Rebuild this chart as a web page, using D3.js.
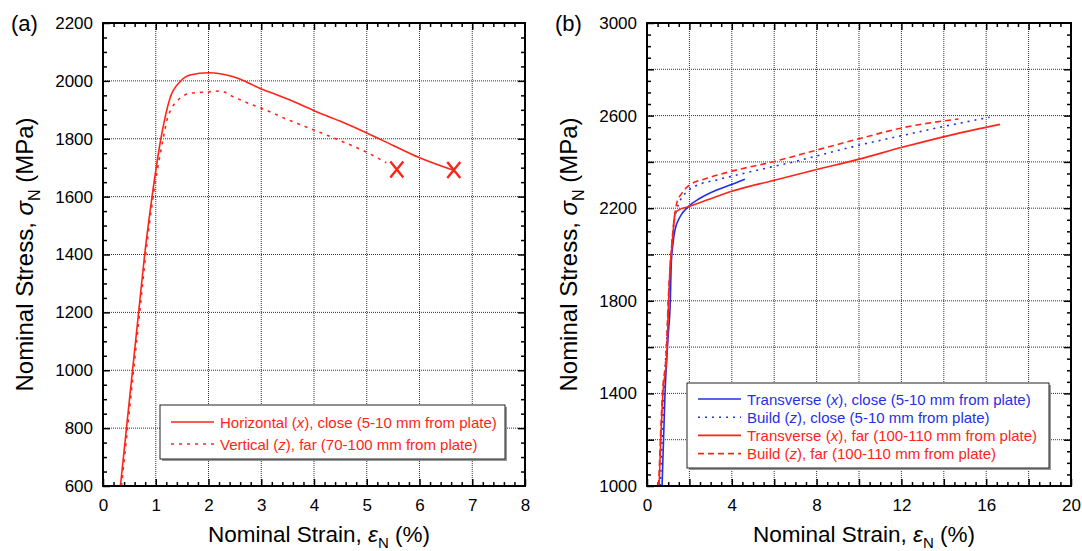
<!DOCTYPE html>
<html>
<head>
<meta charset="utf-8">
<script src="https://cdn.jsdelivr.net/npm/d3@7"></script>
<style>
  body { margin: 0; background: #fff; }
  svg { font-family: "Liberation Sans", Arial, Helvetica, sans-serif; }
</style>
</head>
<body>
<svg id="chart" width="1082" height="551"></svg>
<script>
// Panel (a): [strain %, stress MPa]
const horizClose = [[0.33,600],[0.445,800],[0.56,1000],[0.675,1200],[0.79,1400],[0.93,1600],[1.11,1813],
  [1.27,1940],[1.46,1997],[1.65,2020],[2.0,2028],[2.47,2014],[2.98,1974],[3.5,1937],[3.99,1898],
  [4.49,1861],[4.99,1821],[5.5,1777],[5.98,1736],[6.63,1692]];
const vertFar = [[0.35,600],[0.465,800],[0.58,1000],[0.695,1200],[0.81,1400],[0.95,1600],[1.14,1800],
  [1.22,1870],[1.3,1905],[1.46,1940],[1.65,1957],[2.0,1962],[2.22,1965],[2.47,1945],[2.79,1920],
  [3.01,1905],[3.45,1870],[3.99,1831],[4.49,1794],[4.99,1754],[5.37,1717]];
const failPointsA = [[5.57,1694],[6.65,1692]];

// Panel (b)
const transClose = [[0.71,1000],[0.85,1400],[1.0,1650],[1.1,1800],[1.14,1950],[1.21,2034],[1.32,2106],
  [1.56,2163],[1.95,2207],[2.5,2243],[3.29,2279],[3.92,2300],[4.62,2325]];
const buildClose = [[0.63,1000],[0.8,1400],[0.97,1700],[1.1,1950],[1.25,2120],[1.4,2192],[1.56,2232],
  [1.87,2270],[2.34,2298],[3.29,2322],[4.54,2350],[5.96,2380],[7.0,2402],[8.48,2437],[10,2472],
  [12,2513],[14,2553],[16.16,2593]];
const transFar = [[0.57,1000],[0.75,1400],[0.93,1560],[0.97,1650],[1.02,1800],[1.08,1933],[1.16,2019],
  [1.24,2106],[1.32,2178],[1.48,2192],[1.87,2204],[2.82,2235],[3.92,2271],[5.96,2320],[8.0,2367],
  [10,2412],[12.08,2464],[14.53,2520],[16.65,2562]];
const buildFar = [[0.55,1000],[0.73,1400],[0.92,1600],[1.0,1800],[1.1,1950],[1.2,2080],[1.3,2165],
  [1.4,2221],[1.64,2264],[1.95,2296],[2.82,2329],[3.92,2358],[5.96,2401],[8.0,2451],[10,2500],
  [12.08,2548],[14.0,2577],[14.69,2585]];

const RED = '#ff2418';
const BLUE = '#1f30e8';

const svg = d3.select('#chart');

function drawPanel(p) {
  const g = svg.append('g');
  const x = d3.scaleLinear().domain(p.xDomain).range([p.left, p.right]);
  const y = d3.scaleLinear().domain(p.yDomain).range([p.bottom, p.top]);
  const w = p.right - p.left, h = p.bottom - p.top;

  // dotted grid
  const grid = g.append('g').attr('stroke', '#333').attr('stroke-width', 1).attr('stroke-dasharray', '1,1');
  grid.selectAll('.gx').data(p.xGrid).join('line')
    .attr('x1', d => x(d)).attr('x2', d => x(d)).attr('y1', p.top).attr('y2', p.bottom);
  grid.selectAll('.gy').data(p.yGrid).join('line')
    .attr('y1', d => y(d)).attr('y2', d => y(d)).attr('x1', p.left).attr('x2', p.right);

  // ticks, inward on all four sides
  function addAxis(axis, tx, ty) {
    const a = g.append('g').attr('transform', `translate(${tx},${ty})`).call(axis);
    a.select('.domain').remove();
    a.selectAll('line').attr('stroke', '#000').attr('stroke-width', 1.5);
    a.selectAll('text').attr('font-size', 17).attr('fill', '#000')
      .attr('font-family', '"Liberation Sans", Arial, sans-serif');
    return a;
  }
  const fx = d => p.xLabels.includes(d) ? d : '';
  const fy = d => p.yLabels.includes(d) ? d : '';
  addAxis(d3.axisBottom(x).tickValues(p.xGrid.concat(p.xDomain)).tickSize(-7).tickPadding(13).tickFormat(fx), 0, p.bottom);
  addAxis(d3.axisBottom(x).tickValues(p.xMinor).tickSize(-4).tickFormat(''), 0, p.bottom);
  addAxis(d3.axisTop(x).tickValues(p.xGrid).tickSize(-7).tickFormat(''), 0, p.top);
  addAxis(d3.axisTop(x).tickValues(p.xMinor).tickSize(-4).tickFormat(''), 0, p.top);
  addAxis(d3.axisLeft(y).tickValues(p.yGrid.concat(p.yDomain)).tickSize(-7).tickPadding(10).tickFormat(fy), p.left, 0);
  addAxis(d3.axisLeft(y).tickValues(p.yMinor).tickSize(-4).tickFormat(''), p.left, 0);
  addAxis(d3.axisRight(y).tickValues(p.yGrid).tickSize(-7).tickFormat(''), p.right, 0);
  addAxis(d3.axisRight(y).tickValues(p.yMinor).tickSize(-4).tickFormat(''), p.right, 0);

  // curves
  const clipId = 'clip-' + p.name;
  svg.append('clipPath').attr('id', clipId).append('rect')
    .attr('x', p.left).attr('y', p.top).attr('width', w).attr('height', h);
  const line = d3.line().x(d => x(d[0])).y(d => y(d[1])).curve(d3.curveMonotoneX);
  const curves = g.append('g').attr('clip-path', `url(#${clipId})`);
  p.series.forEach(s => {
    curves.append('path').datum(s.data)
      .attr('d', line).attr('fill', 'none')
      .attr('stroke', s.color).attr('stroke-width', 1.6)
      .attr('stroke-dasharray', s.dash);
  });

  if (p.fail) {
    g.selectAll('.fail').data(p.fail).join('path')
      .attr('transform', d => `translate(${x(d[0])},${y(d[1])})`)
      .attr('d', 'M-6.5,-8L6.5,8M6.5,-8L-6.5,8')
      .attr('stroke', RED).attr('stroke-width', 2.4).attr('fill', 'none');
  }

  // frame
  g.append('rect').attr('x', p.left).attr('y', p.top).attr('width', w).attr('height', h)
    .attr('fill', 'none').attr('stroke', '#000').attr('stroke-width', 2);

  // legend
  const L = p.legend;
  const lg = g.append('g');
  lg.append('rect').attr('x', L.x + 2).attr('y', L.y + 2).attr('width', L.w).attr('height', L.h)
    .attr('fill', '#999');
  lg.append('rect').attr('x', L.x).attr('y', L.y).attr('width', L.w).attr('height', L.h)
    .attr('fill', '#fff').attr('stroke', '#222').attr('stroke-width', 1);
  p.series.forEach((s, i) => {
    const cy = L.y + L.first + i * L.step;
    lg.append('line').attr('x1', L.x + 11).attr('x2', L.x + 54).attr('y1', cy).attr('y2', cy)
      .attr('stroke', s.color).attr('stroke-width', 1.6).attr('stroke-dasharray', s.dash);
    const t = lg.append('text').attr('x', L.x + 60).attr('y', cy + 5.5)
      .attr('font-size', 15).attr('fill', s.color);
    t.append('tspan').text(s.label[0]);
    t.append('tspan').attr('font-style', 'italic').text(s.label[1]);
    t.append('tspan').text(s.label[2]);
  });

  // axis titles
  const xt = g.append('text').attr('x', (p.left + p.right) / 2 + 5).attr('y', 542)
    .attr('text-anchor', 'middle').attr('font-size', 22.5);
  xt.append('tspan').text('Nominal Strain, ');
  xt.append('tspan').attr('font-style', 'italic').text('ε');
  xt.append('tspan').attr('font-size', 15).attr('dy', 6).text('N');
  xt.append('tspan').attr('dy', -6).text(' (%)');

  const yt = g.append('text')
    .attr('transform', `translate(${p.left - 70},${(p.top + p.bottom) / 2}) rotate(-90)`)
    .attr('text-anchor', 'middle').attr('font-size', 24);
  yt.append('tspan').text('Nominal Stress, ');
  yt.append('tspan').attr('font-style', 'italic').text('σ');
  yt.append('tspan').attr('font-size', 16).attr('dy', 7).text('N');
  yt.append('tspan').attr('dy', -7).text(' (MPa)');

  g.append('text').attr('x', p.left - 92).attr('y', 31).attr('font-size', 22).text(p.tag);
}

drawPanel({
  name: 'a', tag: '(a)',
  left: 103, right: 525, top: 23, bottom: 486,
  xDomain: [0, 8], yDomain: [600, 2200],
  xGrid: d3.range(1, 8), xLabels: d3.range(0, 9),
  xMinor: d3.range(0, 8.01, 0.2).filter(v => Math.abs(v - Math.round(v)) > 0.01),
  yGrid: d3.range(800, 2200, 200), yLabels: d3.range(600, 2201, 200),
  yMinor: d3.range(600, 2200, 50).filter(v => v % 200 !== 0),
  series: [
    { data: horizClose, color: RED, dash: null, label: ['Horizontal (', 'x', '), close (5-10 mm from plate)'] },
    { data: vertFar, color: RED, dash: '3,5', label: ['Vertical (', 'z', '), far (70-100 mm from plate)'] }
  ],
  fail: failPointsA,
  legend: { x: 160, y: 405, w: 345, h: 54, first: 17, step: 22 }
});

drawPanel({
  name: 'b', tag: '(b)',
  left: 647, right: 1071, top: 23, bottom: 486,
  xDomain: [0, 20], yDomain: [1000, 3000],
  xGrid: d3.range(2, 20, 2), xLabels: d3.range(0, 21, 4),
  xMinor: d3.range(0.5, 20, 0.5).filter(v => v % 2 !== 0),
  yGrid: d3.range(1200, 3000, 200), yLabels: d3.range(1000, 3001, 400),
  yMinor: d3.range(1000, 3000, 50).filter(v => v % 200 !== 0),
  series: [
    { data: transClose, color: BLUE, dash: null, label: ['Transverse (', 'x', '), close (5-10 mm from plate)'] },
    { data: buildClose, color: BLUE, dash: '2,5', label: ['Build (', 'z', '), close (5-10 mm from plate)'] },
    { data: transFar, color: RED, dash: null, label: ['Transverse (', 'x', '), far (100-110 mm from plate)'] },
    { data: buildFar, color: RED, dash: '6,4', label: ['Build (', 'z', '), far (100-110 mm from plate)'] }
  ],
  legend: { x: 687, y: 383, w: 362, h: 85, first: 16, step: 18.2 }
});
</script>
</body>
</html>
